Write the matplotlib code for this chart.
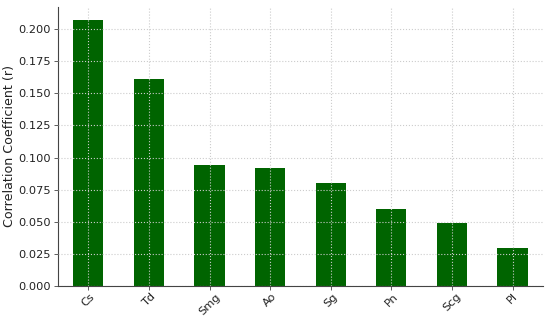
import matplotlib
matplotlib.use("Agg")
import matplotlib.pyplot as plt

categories = ["Cs", "Td", "Smg", "Ao", "Sg", "Pn", "Scg", "Pl"]
values = [0.207, 0.161, 0.094, 0.0918, 0.080, 0.060, 0.049, 0.0296]

fig = plt.figure(figsize=(5.5, 3.19), dpi=100)
ax = fig.add_axes([0.1055, 0.1034, 0.8815, 0.875])
x = range(len(categories))
ax.bar(x, values, width=0.5, color="darkgreen")
ax.set_xlim(-0.5, len(categories) - 0.5)
ax.set_ylim(0, max(values) * 1.05)
ax.set_xticks(list(x))
ax.set_xticklabels(categories, rotation=45, fontsize=8.2, color="#222222")
ax.set_yticks([0, 0.025, 0.05, 0.075, 0.1, 0.125, 0.15, 0.175, 0.2])
ax.tick_params(axis="y", labelsize=8.2, labelcolor="#222222")
ax.set_ylabel("Correlation Coefficient (r)", fontsize=9.1, color="#222222", labelpad=2)
ax.grid(True, linestyle=":", color="#cccccc", linewidth=0.8)
ax.set_axisbelow(False)
ax.spines["top"].set_visible(False)
ax.spines["right"].set_visible(False)
ax.spines["left"].set_color("#444444")
ax.spines["bottom"].set_color("#444444")
ax.tick_params(direction="out", length=3, width=0.6, color="#444444", pad=2)
ax.tick_params(axis="x", pad=1)
fig.savefig("out.png", dpi=100)
